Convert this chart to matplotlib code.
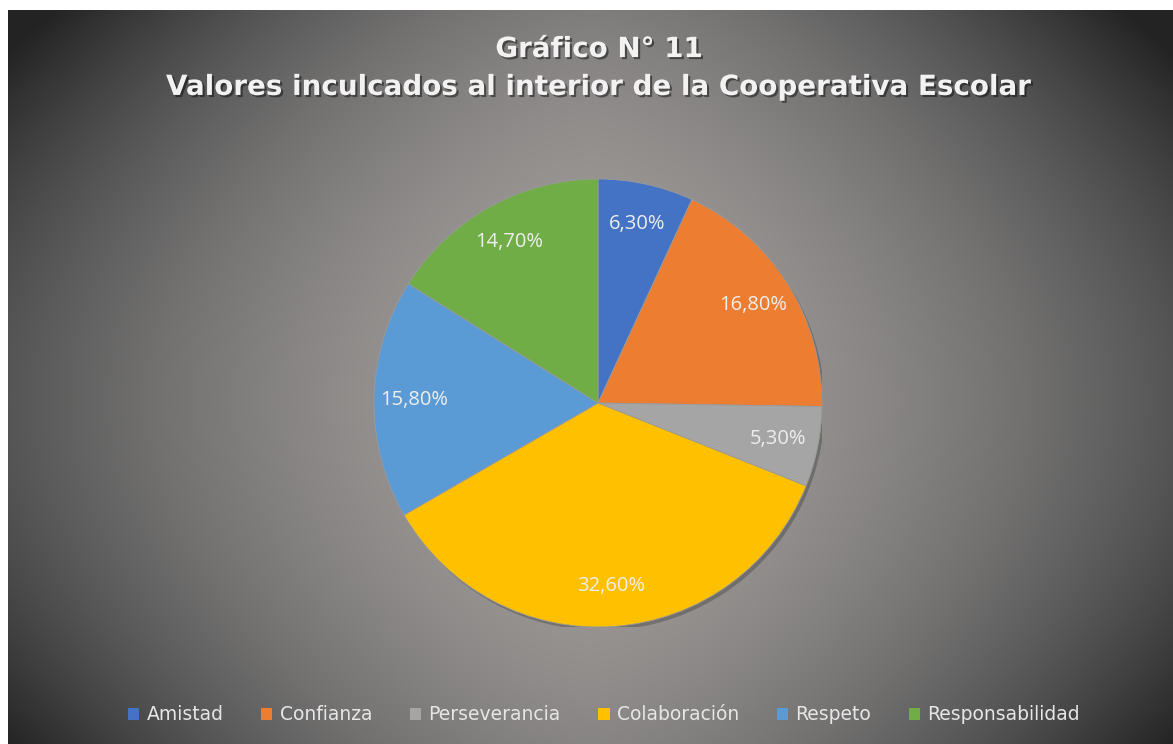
import numpy as np
import matplotlib
matplotlib.use("Agg")
import matplotlib.pyplot as plt
import matplotlib.patheffects as pe
from matplotlib.patches import Circle

categories = ["Amistad", "Confianza", "Perseverancia", "Colaboración", "Respeto", "Responsabilidad"]
values = [6.3, 16.8, 5.3, 32.6, 15.8, 14.7]
labels = ["6,30%", "16,80%", "5,30%", "32,60%", "15,80%", "14,70%"]
colors = ["#4472C4", "#ED7D31", "#A5A5A5", "#FFC000", "#5B9BD5", "#70AD47"]
title = "Gráfico N° 11\nValores inculcados al interior de la Cooperativa Escolar"

W, H = 1173, 744
fig = plt.figure(figsize=(W / 100, H / 100), dpi=100)
fig.patch.set_facecolor("white")

# background gradient panel
x0, y0top = 8, 10
bg = fig.add_axes([x0 / W, 0, 1 - x0 / W, 1 - y0top / H])
bg.set_axis_off()
nx, ny = 500, 320
xx, yy = np.meshgrid(np.linspace(x0, W, nx), np.linspace(y0top, H, ny))
cx, cy = 590, 400
u = np.abs(xx - cx) / 560
v = np.abs(yy - cy) / 300
c = 160 - 70 * u ** 1.6 - 20 * v ** 2 - 16 * (u ** 1.6) * (v ** 2)
c = np.clip(c, 35, 165)
tint = np.clip((c - 90) / 70, 0, 1)
r = c + 2 * tint
g = c - 2 * tint
b = c - 4 * tint
img = np.clip(np.stack([r, g, b], axis=-1) / 255, 0, 1)
bg.imshow(img, aspect="auto", extent=[0, 1, 0, 1], origin="upper")
bg.set_xlim(0, 1)
bg.set_ylim(0, 1)

# title
fig.text(599 / W, 1 - 68 / H, title, ha="center", va="center", color="#f2f2f2",
         fontsize=20, fontweight="bold", family="DejaVu Sans", linespacing=1.45,
         path_effects=[pe.withSimplePatchShadow(offset=(1.5, -1.5), shadow_rgbFace="black", alpha=0.45)])

# pie
pcx, pcy, rad = 598, 403, 224
ax = fig.add_axes([(pcx - rad) / W, 1 - (pcy + rad) / H, 2 * rad / W, 2 * rad / H])
ax.set_axis_off()
sh = Circle((0.012, -0.015), 1.0, facecolor="black", alpha=0.22, edgecolor="none", zorder=0)
ax.add_patch(sh)
wedges, texts = ax.pie(values, colors=colors, startangle=90, counterclock=False,
                       labels=labels, labeldistance=0.82, radius=1,
                       wedgeprops=dict(linewidth=0.6, edgecolor="#9a9a9a"),
                       textprops=dict(color="#eeeeee", fontsize=14.5, family="Open Sans"))
for tx in texts:
    tx.set_ha("center")
    tx.set_va("center")
ax.set_xlim(-1, 1)
ax.set_ylim(-1, 1)
ax.set_aspect("equal")

# legend
leg = fig.legend(wedges, categories, loc="center", bbox_to_anchor=(604 / W, 1 - 715 / H),
                 ncol=6, frameon=False, handlelength=0.6, handleheight=0.6,
                 handletextpad=0.4, columnspacing=2.0,
                 prop=dict(family="DejaVu Sans", size=13.5))
for tx in leg.get_texts():
    tx.set_color("#e6e6e6")
for h in leg.legend_handles:
    h.set_edgecolor("none")

fig.savefig("out.png", dpi=100, facecolor=fig.get_facecolor())
